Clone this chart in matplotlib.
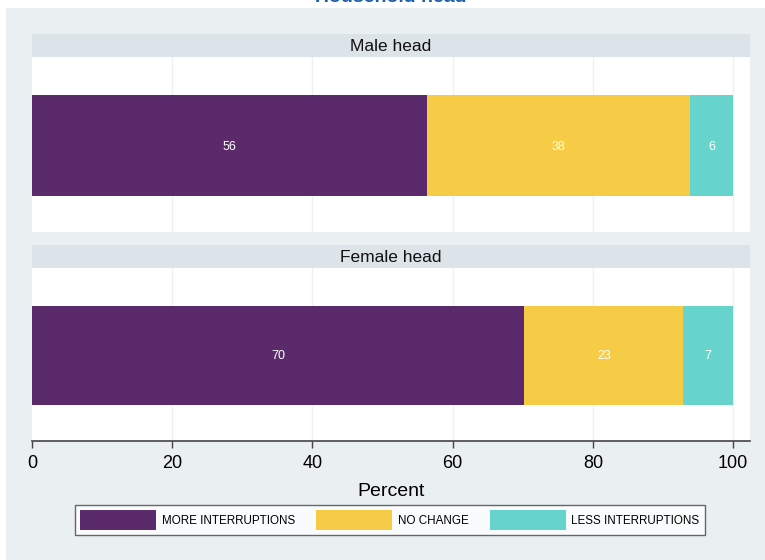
import numpy as np
import matplotlib
matplotlib.use("Agg")
import matplotlib.pyplot as plt
from matplotlib.patches import Rectangle, Patch

# ---------------------------------------------------------------------------
# Data
# ---------------------------------------------------------------------------
GROUPS = ["Male head", "Female head"]
CATEGORIES = ["MORE INTERRUPTIONS", "NO CHANGE", "LESS INTERRUPTIONS"]
MORE = [56.3, 70.2]
NO_CHANGE = [37.6, 22.7]
LESS = [6.1, 7.1]
LABELS = [[56, 38, 6], [70, 23, 7]]
XTICKS = [0, 20, 40, 60, 80, 100]

COLORS = ["#5b2a6b", "#f6cb46", "#66d4cc"]
BG = "#eaeff2"
STRIP = "#dce3e9"
GRID = "#edf1f4"

W, H = 765, 560
plt.rcParams["font.family"] = ["Liberation Sans", "DejaVu Sans"]


def frac(x0, y0, x1, y1):
    """pixel box (top-left origin) -> figure fraction rect"""
    return [x0 / W, 1 - y1 / H, (x1 - x0) / W, (y1 - y0) / H]


fig = plt.figure(figsize=(W / 100, H / 100), dpi=100, facecolor="white")
fig.patches.append(Rectangle((6 / W, 0), 1, 1 - 8 / H, transform=fig.transFigure,
                             facecolor=BG, edgecolor="none", zorder=-10))
fig.text(391 / W, 1 - 1.5 / H, "Household head", ha="center", va="baseline",
         fontsize=14, fontweight="bold", color="#1f5ea8")

panels = [(34, 57, 232), (245, 268, 441)]
axes = []
for i, (ys, y0, y1) in enumerate(panels):
    # strip header
    sax = fig.add_axes(frac(32, ys, 750, y0))
    sax.set_facecolor(STRIP)
    sax.set_xticks([]); sax.set_yticks([])
    for sp in sax.spines.values():
        sp.set_visible(False)
    sax.text(0.5, 0.45, GROUPS[i], ha="center", va="center", fontsize=12.5,
             color="#111111", transform=sax.transAxes)

    ax = fig.add_axes(frac(32, y0, 750, y1))
    ax.set_facecolor("white")
    ax.set_xlim(0, 102.4)
    ax.set_ylim(-0.86, 0.88)
    for xt in XTICKS[1:]:
        ax.axvline(xt, color=GRID, linewidth=1, zorder=0)
    vals = [MORE[i], NO_CHANGE[i], LESS[i]]
    left = 0.0
    for v, c, lab in zip(vals, COLORS, LABELS[i]):
        ax.barh(0, v, left=left, height=1.0, color=c, edgecolor="none", zorder=2)
        ax.text(left + v / 2, -0.01, f"{lab}", ha="center", va="center",
                color="white", fontsize=9, zorder=3)
        left += v
    ax.set_yticks([])
    for sp in ["top", "right", "left"]:
        ax.spines[sp].set_visible(False)
    ax.spines["bottom"].set_visible(i == 1)
    ax.spines["bottom"].set_color("#444444")
    ax.spines["bottom"].set_linewidth(1.2)
    if i == 0:
        ax.set_xticks([])
    else:
        ax.set_xticks(XTICKS)
        ax.tick_params(axis="x", length=5, width=1, color="#444444",
                       labelsize=13, pad=5)
        ax.set_xlabel("Percent", fontsize=14, labelpad=8)
    axes.append(ax)

handles = [Patch(facecolor=c, edgecolor="none") for c in COLORS]
leg = fig.legend(handles, CATEGORIES, loc="center", ncol=3,
                 bbox_to_anchor=(390 / W, 1 - 520 / H), fontsize=8.4,
                 handlelength=6.5, handleheight=2.2, handletextpad=0.5,
                 columnspacing=1.8, borderpad=0.45, frameon=True, fancybox=False)
leg.get_frame().set_edgecolor("#444444")
leg.get_frame().set_linewidth(1.0)

fig.savefig("out.png", dpi=100, facecolor=fig.get_facecolor())
